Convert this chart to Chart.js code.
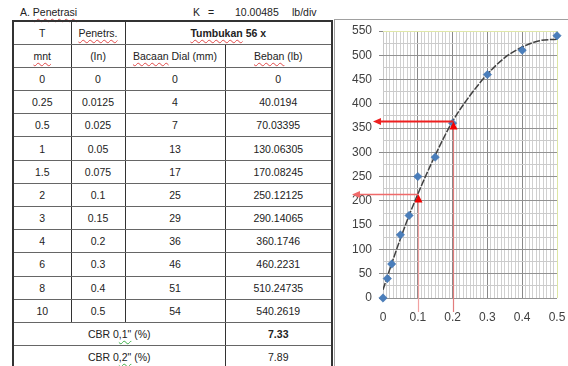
<!DOCTYPE html>
<html lang="id">
<head>
<meta charset="UTF-8">
<title>Penetrasi CBR</title>
<script src="https://cdn.jsdelivr.net/npm/chart.js@4"></script>
<style>
    body {
        margin: 0;
        width: 568px;
        height: 366px;
        overflow: hidden;
        position: relative;
        background: #fff;
        color: #222;
        font-family: 'Liberation Sans', Arial, sans-serif;
        font-size: 10.5px;
    }
    .cap {
        position: absolute;
        top: 6px;
        white-space: nowrap;
    }
    .sp {
        text-decoration: underline wavy #e04848;
        text-decoration-thickness: 1px;
        text-underline-offset: 2px;
        text-decoration-skip-ink: none;
    }
    .gr {
        text-decoration: underline wavy #3fae4a;
        text-decoration-thickness: 1px;
        text-underline-offset: 2px;
        text-decoration-skip-ink: none;
    }
    #tbl {
        position: absolute;
        left: 12px;
        top: 20px;
        border-collapse: collapse;
        table-layout: fixed;
        border: 2px solid #333;
    }
    #tbl tr { height: 23.2px; }
    #tbl td {
        padding: 0;
        text-align: center;
        white-space: nowrap;
        border-left: 1px solid #333;
        border-right: 1px solid #333;
        border-top: 1px solid #666;
        border-bottom: 1px solid #666;
    }
    #tbl .b { font-weight: bold; }
    #frame {
        position: absolute;
        left: 334px;
        top: 19px;
        width: 260px;
        height: 380px;
        border-top: 1px solid #a0a0a0;
        border-left: 1px solid #a0a0a0;
    }
    #wrap {
        position: absolute;
        left: 335px;
        top: 21px;
    }
</style>
</head>
<body>
    <div class="cap" style="left:20px">A. <span class="sp">Penetrasi</span></div>
    <div class="cap" style="left:193px">K</div>
    <div class="cap" style="left:208px">=</div>
    <div class="cap" style="left:235px">10.00485</div>
    <div class="cap" style="left:292px">lb/div</div>

    <table id="tbl">
        <colgroup>
            <col style="width:58px">
            <col style="width:54px">
            <col style="width:100px">
            <col style="width:107px">
        </colgroup>
        <tbody id="rows">
            <tr>
                <td>T</td>
                <td><span class="sp">Penetrs.</span></td>
                <td colspan="2" class="b"><span class="sp">Tumbukan</span> 56 x</td>
            </tr>
            <tr>
                <td><span class="sp">mnt</span></td>
                <td>(In)</td>
                <td><span class="sp">Bacaan</span> Dial (mm)</td>
                <td><span class="sp">Beban</span> (lb)</td>
            </tr>
        </tbody>
    </table>

    <div id="frame"></div>
    <div id="wrap"><canvas id="cbrChart" width="233" height="345"></canvas></div>

<script>
// test readings
const timeMin = [0, 0.25, 0.5, 1, 1.5, 2, 3, 4, 6, 8, 10];
const penetration = [0, 0.0125, 0.025, 0.05, 0.075, 0.1, 0.15, 0.2, 0.3, 0.4, 0.5];
const dialReading = [0, 4, 7, 13, 17, 25, 29, 36, 46, 51, 54];
const load = [0, 40.0194, 70.03395, 130.06305, 170.08245, 250.12125, 290.14065, 360.1746, 460.2231, 510.24735, 540.2619];

// CBR results
const cbrDepth = ['0,1"', '0,2"'];
const cbrValue = [7.33, 7.89];

// smoothed curve through the readings
const trendPen = [0, 0.025, 0.05, 0.075, 0.1, 0.15, 0.2, 0.25, 0.3, 0.35, 0.4, 0.45, 0.5];
const trendLoad = [17, 71, 122, 170, 214, 294, 364, 417, 461, 495, 517, 530, 533];

// loads at 0.1" and 0.2"
const cbrPen = [0.1, 0.2];
const cbrReadLoad = [214, 364];

// axes
const xMajorTicks = [0, 0.1, 0.2, 0.3, 0.4, 0.5];
const xTickLabels = ['0', '0.1', '0.2', '0.3', '0.4', '0.5'];
const yMajorTicks = [0, 50, 100, 150, 200, 250, 300, 350, 400, 450, 500, 550];
const yTickLabels = ['0', '50', '100', '150', '200', '250', '300', '350', '400', '450', '500', '550'];

// table body
const tbody = document.getElementById('rows');
timeMin.forEach((t, i) => {
    const tr = document.createElement('tr');
    [t, penetration[i], dialReading[i], load[i]].forEach(v => {
        const td = document.createElement('td');
        td.textContent = String(v);
        tr.appendChild(td);
    });
    tbody.appendChild(tr);
});
cbrDepth.forEach((d, i) => {
    const tr = document.createElement('tr');
    tr.innerHTML = '<td colspan="3">CBR ' + d.slice(0, 1) + '<span class="gr">' + d.slice(1) + '</span> (%)</td>' +
        '<td' + (i === 0 ? ' class="b"' : '') + '>' + cbrValue[i].toFixed(2) + '</td>';
    tbody.appendChild(tr);
});

// minor grid spacing
const xMinorStep = 0.01;
const yMinorStep = 25;

function isMajor(list, v) {
    return list.findIndex(t => Math.abs(t - v) < 1e-9);
}

const cbrArrows = {
    id: 'cbrArrows',
    afterDatasetsDraw(chart) {
        const { ctx, chartArea, scales: { x, y } } = chart;
        const styles = [
            { tipGap: 31, line: '#f06a6a', lineWidth: 1.3, stem: '#f2a2a2', stemWidth: 1.2 },
            { tipGap: 10, line: '#ee2020', lineWidth: 2, stem: '#e27c7c', stemWidth: 1.2 }
        ];
        ctx.save();
        cbrPen.forEach((p, i) => {
            const s = styles[i];
            const px = Math.round(x.getPixelForValue(p)) + 0.5;
            const py = Math.round(y.getPixelForValue(cbrReadLoad[i])) + 0.5;
            // stem from under the axis up to the marker
            ctx.strokeStyle = s.stem;
            ctx.lineWidth = s.stemWidth;
            ctx.beginPath();
            ctx.moveTo(px, chartArea.bottom + 14);
            ctx.lineTo(px, py + 7);
            ctx.stroke();
            // reading line back to the load axis
            const tipX = chartArea.left - s.tipGap;
            ctx.strokeStyle = s.line;
            ctx.lineWidth = s.lineWidth;
            ctx.beginPath();
            ctx.moveTo(px, py);
            ctx.lineTo(tipX + 6, py);
            ctx.stroke();
            ctx.fillStyle = s.line;
            ctx.beginPath();
            ctx.moveTo(tipX, py);
            ctx.lineTo(tipX + 8, py - 3.5);
            ctx.lineTo(tipX + 8, py + 3.5);
            ctx.closePath();
            ctx.fill();
            // upward marker
            ctx.fillStyle = '#f20000';
            ctx.beginPath();
            ctx.moveTo(px, py);
            ctx.lineTo(px - 4, py + 8);
            ctx.lineTo(px + 4, py + 8);
            ctx.closePath();
            ctx.fill();
        });
        ctx.restore();
    }
};

const tickFont = { family: "'Liberation Sans', Arial, sans-serif", size: 12 };

new Chart(document.getElementById('cbrChart'), {
    type: 'scatter',
    data: {
        datasets: [{
            data: penetration.map((p, i) => ({ x: p, y: load[i] })),
            pointStyle: 'rectRot',
            pointRadius: 4.2,
            backgroundColor: '#4a7ebb',
            borderColor: '#3f6faa',
            borderWidth: 0.5,
            clip: false
        }, {
            data: trendPen.map((p, i) => ({ x: p, y: trendLoad[i] })),
            showLine: true,
            pointRadius: 0,
            borderColor: '#404040',
            borderWidth: 1.5,
            borderDash: [7, 1.5],
            cubicInterpolationMode: 'monotone'
        }]
    },
    options: {
        responsive: false,
        animation: false,
        layout: { padding: { top: 10, right: 11, bottom: 38, left: 0 } },
        plugins: {
            legend: { display: false },
            tooltip: { enabled: false }
        },
        scales: {
            x: {
                type: 'linear',
                min: 0,
                max: 0.5,
                afterBuildTicks: scale => {
                    const ticks = [];
                    for (let v = 0; v <= 50; v++) ticks.push({ value: +(v * xMinorStep).toFixed(2) });
                    scale.ticks = ticks;
                },
                afterFit: scale => {
                    scale.height = 30;
                    scale.paddingLeft = 0;
                    scale.paddingRight = 0;
                },
                border: { display: false },
                grid: {
                    drawTicks: false,
                    color: c => {
                        const v = c.tick.value;
                        if (Math.abs(v) < 1e-9) return '#c8c8c8';
                        if (Math.abs(v - 0.5) < 1e-9) return '#dde6a4';
                        return isMajor(xMajorTicks, v) >= 0 ? '#888888' : '#d0d0d0';
                    }
                },
                ticks: {
                    autoSkip: false,
                    maxRotation: 0,
                    padding: 12,
                    color: '#404040',
                    font: tickFont,
                    callback: v => {
                        const k = isMajor(xMajorTicks, v);
                        return k >= 0 ? xTickLabels[k] : '';
                    }
                }
            },
            y: {
                min: 0,
                max: 550,
                afterBuildTicks: scale => {
                    const ticks = [];
                    for (let v = 0; v <= 550; v += yMinorStep) ticks.push({ value: v });
                    scale.ticks = ticks;
                },
                afterFit: scale => {
                    scale.width = 48;
                    scale.paddingTop = 0;
                    scale.paddingBottom = 0;
                },
                border: { display: false },
                grid: {
                    tickLength: 4,
                    color: c => {
                        const v = c.tick.value;
                        if (v === 550) return '#e0e8a8';
                        return isMajor(yMajorTicks, v) >= 0 ? '#929292' : '#cbcbcb';
                    },
                    tickColor: c => isMajor(yMajorTicks, c.tick.value) >= 0 ? '#8a8a8a' : 'rgba(0,0,0,0)'
                },
                ticks: {
                    autoSkip: false,
                    padding: 7,
                    color: '#404040',
                    font: tickFont,
                    callback: v => {
                        const k = isMajor(yMajorTicks, v);
                        return k >= 0 ? yTickLabels[k] : '';
                    }
                }
            }
        }
    },
    plugins: [cbrArrows]
});
</script>
</body>
</html>
